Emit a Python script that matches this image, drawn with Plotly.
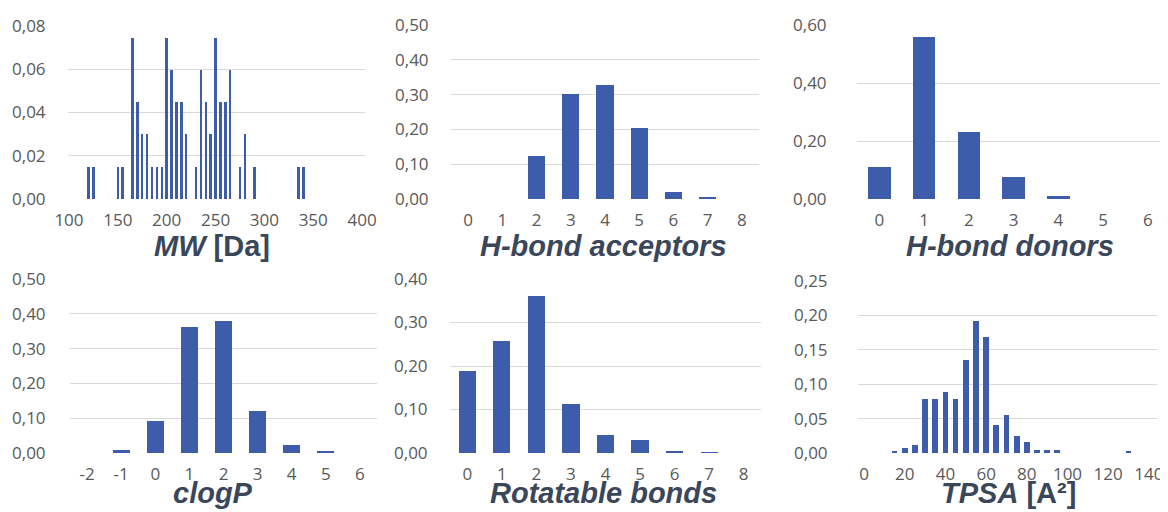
import plotly.graph_objects as go

W, H = 1168, 512
OFF = 8  # the page body adds an 8px margin; compensate so the chart lands where the reference has it

# ---------------- data ----------------
mw_x = [120, 125, 150, 155, 165, 170, 175, 180, 185, 190, 195, 200, 205, 210, 215, 220,
        230, 235, 240, 245, 250, 255, 260, 265, 275, 280, 290, 335, 340]
mw_counts = [1, 1, 1, 1, 5, 3, 2, 2, 1, 1, 1, 5, 4, 3, 3, 2,
             1, 4, 3, 2, 5, 3, 3, 4, 1, 2, 1, 1, 1]
mw_total = 67
mw_y = [c / mw_total for c in mw_counts]

hba_x = [0, 1, 2, 3, 4, 5, 6, 7, 8]
hba_y = [0.0, 0.0, 0.125, 0.303, 0.328, 0.205, 0.020, 0.006, 0.0]

hbd_x = [0, 1, 2, 3, 4, 5, 6]
hbd_y = [0.109, 0.560, 0.232, 0.076, 0.010, 0.0, 0.0]

clogp_x = [-2, -1, 0, 1, 2, 3, 4, 5, 6]
clogp_y = [0.0, 0.009, 0.092, 0.363, 0.380, 0.121, 0.022, 0.006, 0.0]
clogp_labels = [str(v) for v in clogp_x]  # plain hyphen-minus as in the reference

rb_x = [0, 1, 2, 3, 4, 5, 6, 7, 8]
rb_y = [0.189, 0.258, 0.360, 0.112, 0.041, 0.030, 0.004, 0.002, 0.0]

tpsa_x = [15, 20, 25, 30, 35, 40, 45, 50, 55, 60, 65, 70, 75, 80, 85, 90, 95, 130]
tpsa_y = [0.0024, 0.007, 0.011, 0.079, 0.079, 0.088, 0.079, 0.135, 0.192, 0.168,
          0.041, 0.055, 0.025, 0.016, 0.005, 0.005, 0.005, 0.0024]

titles = ["<b><i>MW</i> [Da]</b>", "<b><i>H-bond acceptors</i></b>", "<b><i>H-bond donors</i></b>",
          "<b><i>clogP</i></b>", "<b><i>Rotatable bonds</i></b>", "<b><i>TPSA</i> [A²]</b>"]

# ---------------- style ----------------
BAR = "#3d5dab"
GRID = "#d9d9d9"
TICK = "#595959"
TITLE = "#3a4659"
TFONT = dict(family="Open Sans, sans-serif", size=17, color=TICK)

def px(xp):
    return (xp - OFF) / W

def py(yp):
    return 1 - (yp - OFF) / H

panels = [
    dict(x=mw_x, y=mw_y, w=2.5, xd=(68, 365), yd=(199, 26), xr=[99, 403], yr=[0, 0.08], dy=0.02,
         xt=dict(tickmode="linear", tick0=100, dtick=50), ystand=18),
    dict(x=hba_x, y=hba_y, w=0.5, xd=(451, 759), yd=(199, 25), xr=[-0.5, 8.5], yr=[0, 0.5], dy=0.1,
         xt=dict(tickmode="linear", tick0=0, dtick=1), ystand=18),
    dict(x=hbd_x, y=hbd_y, w=0.5, xd=(857, 1168), yd=(199, 25), xr=[-0.5, 6.45], yr=[0, 0.6], dy=0.2,
         xt=dict(tickmode="linear", tick0=0, dtick=1), ystand=26),
    dict(x=clogp_x, y=clogp_y, w=0.5, xd=(70, 377), yd=(453, 279), xr=[-2.5, 6.5], yr=[0, 0.5], dy=0.1,
         xt=dict(tickmode="array", tickvals=clogp_x, ticktext=clogp_labels), ystand=20),
    dict(x=rb_x, y=rb_y, w=0.5, xd=(450, 761), yd=(453, 279), xr=[-0.5, 8.5], yr=[0, 0.4], dy=0.1,
         xt=dict(tickmode="linear", tick0=0, dtick=1), ystand=18),
    dict(x=tpsa_x, y=tpsa_y, w=2.8, xd=(858, 1157), yd=(453, 281), xr=[-3, 144], yr=[0, 0.25], dy=0.05,
         xt=dict(tickmode="linear", tick0=0, dtick=20), ystand=26),
]

title_pos = [(212, 246), (603, 246), (1010, 246), (213, 493), (603, 493), (1008, 493)]

fig = go.Figure()
layout = dict(
    width=W, height=H, margin=dict(l=0, r=0, t=0, b=0, autoexpand=False),
    paper_bgcolor="white", plot_bgcolor="white",
    showlegend=False, separators=", ", bargap=0,
)

annotations = []
for i, p in enumerate(panels, start=1):
    xa = "x" if i == 1 else f"x{i}"
    ya = "y" if i == 1 else f"y{i}"
    fig.add_trace(go.Bar(x=p["x"], y=p["y"], width=p["w"], marker=dict(color=BAR, line=dict(width=0)),
                         xaxis=xa, yaxis=ya, hoverinfo="skip"))
    xkey = "xaxis" if i == 1 else f"xaxis{i}"
    ykey = "yaxis" if i == 1 else f"yaxis{i}"
    layout[xkey] = dict(
        domain=[px(p["xd"][0]), min(1.0, px(p["xd"][1]))], anchor=ya, range=p["xr"],
        showgrid=False, zeroline=False, showline=False, automargin=False,
        ticks="outside", ticklen=6, tickcolor="rgba(0,0,0,0)", tickfont=TFONT, **p["xt"],
    )
    layout[ykey] = dict(
        domain=[py(p["yd"][0]), py(p["yd"][1])], anchor=xa, range=p["yr"],
        tickmode="linear", tick0=0, dtick=p["dy"], tickformat=".2f",
        showgrid=True, gridcolor=GRID, gridwidth=1, zeroline=False, showline=False, automargin=False,
        ticks="outside", ticklen=p["ystand"], tickcolor="rgba(0,0,0,0)", tickfont=TFONT,
    )
    tx, ty = title_pos[i - 1]
    annotations.append(dict(
        text=titles[i - 1], x=px(tx), y=py(ty), xref="paper", yref="paper",
        xanchor="center", yanchor="middle", showarrow=False,
        font=dict(family="Liberation Sans, Arial, sans-serif", size=29, color=TITLE),
    ))

layout["annotations"] = annotations
fig.update_layout(**layout)
fig.write_html("out.html")
